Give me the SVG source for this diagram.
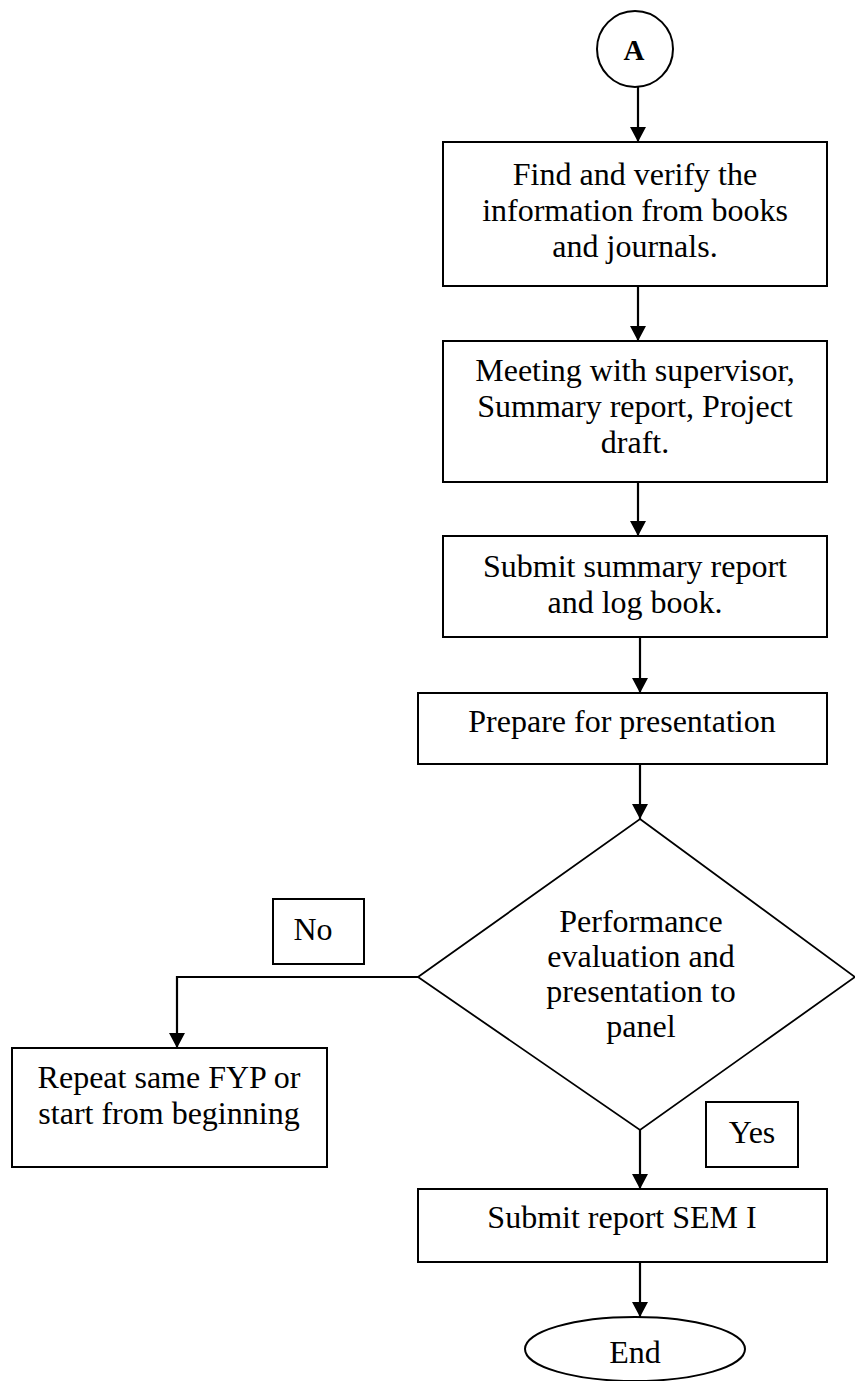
<svg xmlns="http://www.w3.org/2000/svg" width="855" height="1381" viewBox="0 0 855 1381">
  <style>
    .shape { fill: #fff; stroke: #000; stroke-width: 2; }
    .diamond { fill: #fff; stroke: #000; stroke-width: 1.8; }
    .label { font-family: "Liberation Serif", "Times New Roman", serif; font-size: 32px; fill: #000; text-anchor: middle; }
    .bold { font-weight: bold; font-size: 29px; }
    .link { fill: none; stroke: #000; stroke-width: 2.2; }
  </style>
  <defs>
    <marker id="arrow" markerUnits="userSpaceOnUse" markerWidth="16" markerHeight="16" refX="15" refY="8" orient="auto">
      <path d="M0,0 L15,8 L0,16 Z" fill="#000"/>
    </marker>
  </defs>
  <rect width="855" height="1381" fill="#fff"/>

  <!-- connectors -->
  <g id="connectors">
    <line class="link" x1="638" y1="87" x2="638" y2="142" marker-end="url(#arrow)"/>
    <line class="link" x1="638" y1="286" x2="638" y2="341" marker-end="url(#arrow)"/>
    <line class="link" x1="638" y1="482" x2="638" y2="536" marker-end="url(#arrow)"/>
    <line class="link" x1="640" y1="637" x2="640" y2="693" marker-end="url(#arrow)"/>
    <line class="link" x1="640" y1="764" x2="640" y2="819" marker-end="url(#arrow)"/>
    <polyline class="link" points="418,977 177,977 177,1048" marker-end="url(#arrow)"/>
    <line class="link" x1="640" y1="1130" x2="640" y2="1189" marker-end="url(#arrow)"/>
    <line class="link" x1="640" y1="1262" x2="640" y2="1317" marker-end="url(#arrow)"/>
  </g>

  <g id="connector-a">
    <circle class="shape" cx="635" cy="49" r="38"/>
    <text class="label bold" x="634" y="60">A</text>
  </g>

  <g id="find-info">
    <rect class="shape" x="443" y="142" width="384" height="144"/>
    <text class="label" x="635" y="185">Find and verify the</text>
    <text class="label" x="635" y="221">information from books</text>
    <text class="label" x="635" y="257">and journals.</text>
  </g>

  <g id="meeting">
    <rect class="shape" x="443" y="341" width="384" height="141"/>
    <text class="label" x="635" y="381">Meeting with supervisor,</text>
    <text class="label" x="635" y="417">Summary report, Project</text>
    <text class="label" x="635" y="453">draft.</text>
  </g>

  <g id="submit-summary">
    <rect class="shape" x="443" y="536" width="384" height="101"/>
    <text class="label" x="635" y="577">Submit summary report</text>
    <text class="label" x="635" y="613">and log book.</text>
  </g>

  <g id="prepare">
    <rect class="shape" x="418" y="693" width="409" height="71"/>
    <text class="label" x="622" y="732">Prepare for presentation</text>
  </g>

  <g id="evaluation">
    <polygon class="diamond" points="640,819 855,977 640,1130 418,977"/>
    <text class="label" x="641" y="932">Performance</text>
    <text class="label" x="641" y="967">evaluation and</text>
    <text class="label" x="641" y="1002">presentation to</text>
    <text class="label" x="641" y="1037">panel</text>
  </g>

  <g id="no-label">
    <rect class="shape" x="273" y="899" width="91" height="65"/>
    <text class="label" x="313" y="940">No</text>
  </g>

  <g id="repeat">
    <rect class="shape" x="12" y="1048" width="315" height="119"/>
    <text class="label" x="169" y="1088">Repeat same FYP or</text>
    <text class="label" x="169" y="1124">start from beginning</text>
  </g>

  <g id="yes-label">
    <rect class="shape" x="706" y="1102" width="92" height="65"/>
    <text class="label" x="752" y="1143">Yes</text>
  </g>

  <g id="submit-sem">
    <rect class="shape" x="418" y="1189" width="409" height="73"/>
    <text class="label" x="622" y="1228">Submit report SEM I</text>
  </g>

  <g id="end">
    <ellipse class="shape" cx="635" cy="1349" rx="110" ry="32"/>
    <text class="label" x="635" y="1363">End</text>
  </g>
</svg>
